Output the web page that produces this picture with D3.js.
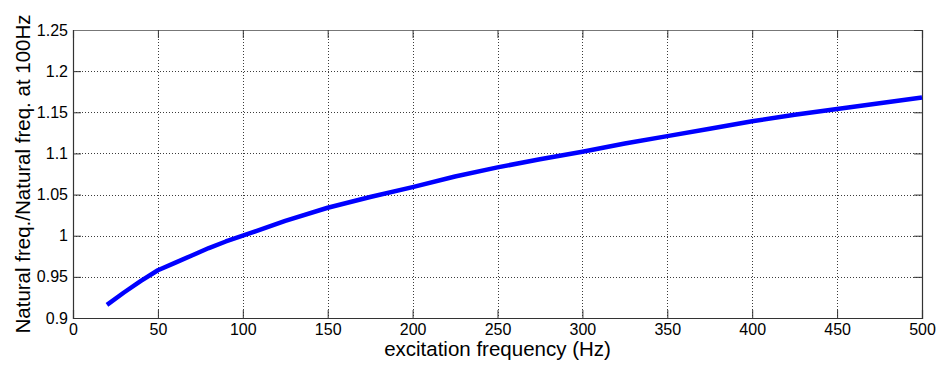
<!DOCTYPE html>
<html>
<head>
<meta charset="utf-8">
<script src="https://cdn.jsdelivr.net/npm/d3@7"></script>
<style>
  body { margin: 0; background: #fff; }
  svg { display: block; }
  text { font-family: "Liberation Sans", Arial, sans-serif; fill: #000; }
</style>
</head>
<body>
<div id="wrapper"></div>
<script>
// Data
const freqs = [20, 30, 40, 50, 60, 70, 80, 90, 100, 125, 150, 175, 200, 225, 250, 275, 300, 325, 350, 375, 400, 425, 450, 475, 500];
const ratios = [0.916, 0.931, 0.945, 0.958, 0.967, 0.976, 0.985, 0.993, 1.0, 1.018, 1.034, 1.047, 1.059, 1.072, 1.083, 1.093, 1.102, 1.112, 1.121, 1.130, 1.139, 1.147, 1.154, 1.161, 1.168];
const xTicks = [0, 50, 100, 150, 200, 250, 300, 350, 400, 450, 500];
const yTicks = [0.9, 0.95, 1, 1.05, 1.1, 1.15, 1.2, 1.25];
const xLabel = "excitation frequency (Hz)";
const yLabel = "Natural freq./Natural freq. at 100Hz";

const dimensions = {
  width: 937,
  height: 365,
  margins: { top: 30, right: 15, bottom: 47, left: 73 },
};
dimensions.boundedWidth = dimensions.width - dimensions.margins.left - dimensions.margins.right;
dimensions.boundedHeight = dimensions.height - dimensions.margins.top - dimensions.margins.bottom;

const wrapper = d3.select("#wrapper")
  .append("svg")
  .attr("width", dimensions.width)
  .attr("height", dimensions.height);

const bounds = wrapper.append("g")
  .attr("transform", `translate(${dimensions.margins.left},${dimensions.margins.top})`);

const xScale = d3.scaleLinear().domain([0, 500]).range([0, dimensions.boundedWidth]);
const yScale = d3.scaleLinear().domain([0.9, 1.25]).range([dimensions.boundedHeight, 0]);

// grid
const gridColor = "#3c3c3c";
bounds.append("g").selectAll("line")
  .data(xTicks.slice(1, -1))
  .join("line")
  .attr("x1", d => Math.round(xScale(d)) + 0.5)
  .attr("x2", d => Math.round(xScale(d)) + 0.5)
  .attr("y1", 0)
  .attr("y2", dimensions.boundedHeight)
  .attr("stroke", gridColor)
  .attr("stroke-width", 1)
  .attr("stroke-dasharray", "1,2");

bounds.append("g").selectAll("line")
  .data(yTicks.slice(1, -1))
  .join("line")
  .attr("y1", d => Math.round(yScale(d)) + 0.5)
  .attr("y2", d => Math.round(yScale(d)) + 0.5)
  .attr("x1", 0)
  .attr("x2", dimensions.boundedWidth)
  .attr("stroke", gridColor)
  .attr("stroke-width", 1)
  .attr("stroke-dasharray", "1,2");

// axes (ticks inside, MATLAB style)
const tickLen = 8;
const xAxis = bounds.append("g")
  .attr("transform", `translate(0,${dimensions.boundedHeight})`)
  .call(d3.axisBottom(xScale).tickValues(xTicks).tickSize(-tickLen).tickPadding(6).tickFormat(d3.format("")));
const yAxis = bounds.append("g")
  .call(d3.axisLeft(yScale).tickValues(yTicks).tickSize(-tickLen).tickPadding(5).tickFormat(d => String(d)));
const xAxisTop = bounds.append("g")
  .call(d3.axisTop(xScale).tickValues(xTicks).tickSize(-tickLen).tickFormat(""));
const yAxisRight = bounds.append("g")
  .attr("transform", `translate(${dimensions.boundedWidth},0)`)
  .call(d3.axisRight(yScale).tickValues(yTicks).tickSize(-tickLen).tickFormat(""));

[xAxis, yAxis, xAxisTop, yAxisRight].forEach(ax => {
  ax.select(".domain").attr("stroke", "#333").attr("stroke-width", 1.2);
  ax.selectAll(".tick line").attr("stroke", "#333");
  ax.selectAll("text").style("font-size", "16px").style("font-family", "'Liberation Sans', Arial, sans-serif").attr("fill", "#000");
});
xAxisTop.select(".domain").attr("stroke", "#777");

// line
const lineGenerator = d3.line()
  .x((d, i) => xScale(freqs[i]))
  .y(d => yScale(d));

bounds.append("path")
  .datum(ratios)
  .attr("d", lineGenerator)
  .attr("fill", "none")
  .attr("stroke", "#0000ff")
  .attr("stroke-width", 4.5)
  .attr("stroke-linejoin", "round");

// labels
wrapper.append("text")
  .attr("x", dimensions.margins.left + dimensions.boundedWidth / 2)
  .attr("y", 356)
  .attr("text-anchor", "middle")
  .style("font-size", "20.5px")
  .text(xLabel);

wrapper.append("text")
  .attr("transform", `translate(30,${dimensions.margins.top + dimensions.boundedHeight / 2}) rotate(-90)`)
  .attr("text-anchor", "middle")
  .style("font-size", "20.5px")
  .text(yLabel);
</script>
</body>
</html>
